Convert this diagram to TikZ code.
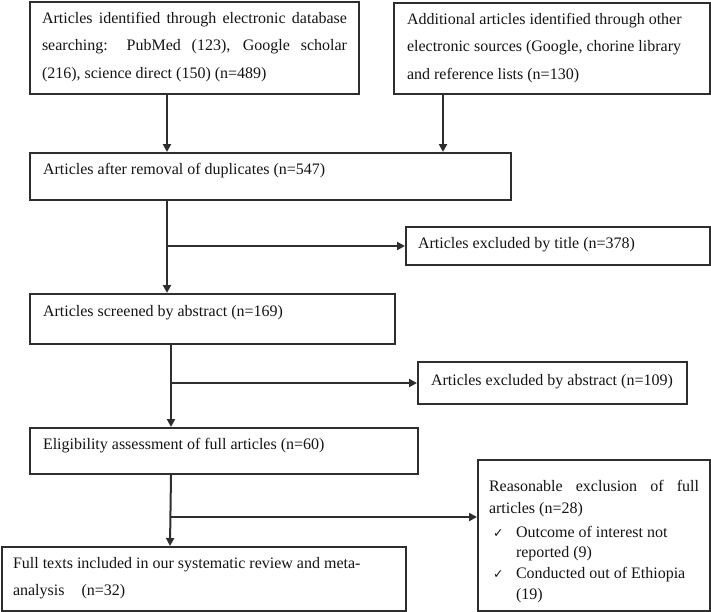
\documentclass[tikz,border=0pt]{standalone}
\usepackage{fontspec}
\setmainfont{Liberation Serif}
\newfontfamily\symfont{DejaVu Sans}
\usetikzlibrary{arrows.meta}
\tikzset{
  box/.style={draw=black!82, line width=2pt, inner ysep=0pt, anchor=north west,
    text=black!92, font=\fontsize{16}{27.6}\selectfont},
  arr/.style={draw=black!82, line width=2pt, -{Triangle[length=8pt,width=8pt]}},
}
\newcommand{\tb}[4]{\parbox[t][#2][t]{#1}{\rule{0pt}{#3}#4}}
\newcommand{\ck}{{\symfont\fontsize{12.5}{12.5}\selectfont ✓}}
\begin{document}
\begin{tikzpicture}[x=1pt,y=-1pt]
\useasboundingbox (0,0) rectangle (711,611);

\node[box, inner xsep=12pt] (b1) at (29,1) {\tb{305pt}{92pt}{21pt}{%
\makebox[\linewidth][s]{Articles identified through electronic database}\\
\makebox[\linewidth][s]{searching: PubMed (123), Google scholar}\\
(216), science direct (150) (n=489)}};

\node[box, inner xsep=13pt] (b2) at (393,2) {\tb{290pt}{91pt}{21pt}{%
Additional articles identified through other\\
electronic sources (Google, chorine library\\
and reference lists (n=130)}};

\node[box, inner xsep=13pt] (b3) at (29,152) {\tb{455pt}{47pt}{21pt}{%
Articles after removal of duplicates (n=547)}};

\node[box, inner xsep=12pt] (bt) at (405,226) {\tb{280pt}{38pt}{21pt}{%
Articles excluded by title (n=378)}};

\node[box, inner xsep=13pt] (b4) at (29,293) {\tb{339pt}{50pt}{22pt}{%
Articles screened by abstract (n=169)}};

\node[box, inner xsep=13pt] (ba) at (417,361) {\tb{243pt}{42pt}{23pt}{%
Articles excluded by abstract (n=109)}};

\node[box, inner xsep=13pt] (b5) at (29,427) {\tb{362pt}{46pt}{21pt}{%
Eligibility assessment of full articles (n=60)}};

\node[box, inner xsep=11pt] (br) at (477,459) {\tb{210pt}{150.5pt}{31pt}{%
\makebox[\linewidth][s]{Reasonable exclusion of full}\\[-5.6pt]
articles (n=28)\\[-3.6pt]
\hspace*{4pt}\makebox[23pt][l]{\ck}Outcome of interest not\\[-7pt]
\hspace*{27pt}reported (9)\\[-6.6pt]
\hspace*{4pt}\makebox[23pt][l]{\ck}Conducted out of Ethiopia\\[-6.6pt]
\hspace*{27pt}(19)}};

\node[box, inner xsep=11pt] (b6) at (1,546) {\tb{382pt}{63.5pt}{21pt}{%
Full texts included in our systematic review and meta-\\
analysis\hspace{13pt} (n=32)}};

\coordinate (v1) at ([xshift=138pt]b1.south west);
\coordinate (v2) at ([xshift=50pt]b2.south west);
\coordinate (v3) at ([xshift=138pt]b3.south west);
\coordinate (v4) at ([xshift=142pt]b4.south west);
\coordinate (v5) at ([xshift=142pt]b5.south west);
\coordinate (v6) at ([xshift=169pt]b6.north west);
\coordinate (r1) at ([yshift=-58pt]br.north west);

\draw[arr] (v1) -- (v1 |- b3.north);
\draw[arr] (v2) -- (v2 |- b3.north);
\draw[arr] (v3) -- (v3 |- b4.north);
\draw[arr] (v3 |- bt.west) -- (bt.west);
\draw[arr] (v4) -- (v4 |- b5.north);
\draw[arr] (v4 |- ba.west) -- (ba.west);
\draw[arr] (v5) -- (v6);
\draw[arr] (v5 |- r1) -- (r1);
\end{tikzpicture}
\end{document}
